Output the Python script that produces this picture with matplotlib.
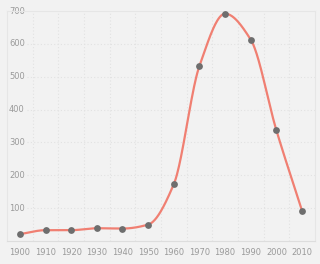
import numpy as np
import matplotlib
matplotlib.use("Agg")
import matplotlib.pyplot as plt

# Data
years = [1900, 1910, 1920, 1930, 1940, 1950, 1960, 1970, 1980, 1990, 2000, 2010]
values = [21, 33, 33, 39, 38, 50, 173, 533, 692, 613, 337, 92]
y_ticks = [100, 200, 300, 400, 500, 600, 700]

bg = "#f2f2f2"
line_color = "#f07f72"
marker_color = "#6e6e6e"
text_color = "#9a9a9a"
grid_color = "#e2e2e2"


def monotone_curve(x, y, n=40):
    """ Monotone cubic interpolation (Fritsch-Carlson) for smooth line """
    x = np.asarray(x, float)
    y = np.asarray(y, float)
    h = np.diff(x)
    d = np.diff(y) / h
    m = np.zeros_like(y)
    m[0], m[-1] = d[0], d[-1]
    for i in range(1, len(y) - 1):
        if d[i - 1] * d[i] <= 0:
            m[i] = 0
        else:
            w1 = 2 * h[i] + h[i - 1]
            w2 = h[i] + 2 * h[i - 1]
            m[i] = (w1 + w2) / (w1 / d[i - 1] + w2 / d[i])
    xs, ys = [], []
    for i in range(len(x) - 1):
        t = np.linspace(0, 1, n)
        h00 = 2 * t**3 - 3 * t**2 + 1
        h10 = t**3 - 2 * t**2 + t
        h01 = -2 * t**3 + 3 * t**2
        h11 = t**3 - t**2
        xs.append(x[i] + t * h[i])
        ys.append(h00 * y[i] + h10 * h[i] * m[i] + h01 * y[i + 1] + h11 * h[i] * m[i + 1])
    return np.concatenate(xs), np.concatenate(ys)


fig = plt.figure(figsize=(3.2, 2.64), dpi=100, facecolor=bg)
ax = fig.add_axes([0.022, 0.087, 0.962, 0.871], facecolor=bg)

# Grid
for yt in y_ticks[:-1]:
    ax.axhline(yt, color=grid_color, lw=0.8, ls=(0, (1, 2)), zorder=0)
for yr in years[:-1]:
    ax.axvline(yr + 5, color=grid_color, lw=0.8, ls=(0, (1, 2)), zorder=0)

for s in ax.spines.values():
    s.set_color("#e6e6e6")
    s.set_linewidth(0.8)
ax.spines["bottom"].set_color("#dddddd")

# Line and points
cx, cy = monotone_curve(years, values)
ax.plot(cx, cy, color=line_color, lw=1.6, zorder=2, solid_capstyle="round")
ax.scatter(years, values, s=24, color=marker_color, zorder=3, linewidths=0)

ax.set_xlim(1895, 2015)
ax.set_ylim(0, 700)
ax.set_xticks(years)
ax.set_xticklabels([str(y) for y in years])
ax.set_yticks([])
ax.tick_params(axis="x", length=0, pad=5, labelsize=6, labelcolor=text_color)

# Y labels sit inside the plot area
for yt in y_ticks:
    ax.text(1895.8, yt, str(yt), ha="left", va="center", fontsize=6, color=text_color,
            bbox=dict(facecolor=bg, edgecolor="none", pad=1.2), zorder=1)

fig.savefig("out.png", dpi=100, facecolor=bg)
